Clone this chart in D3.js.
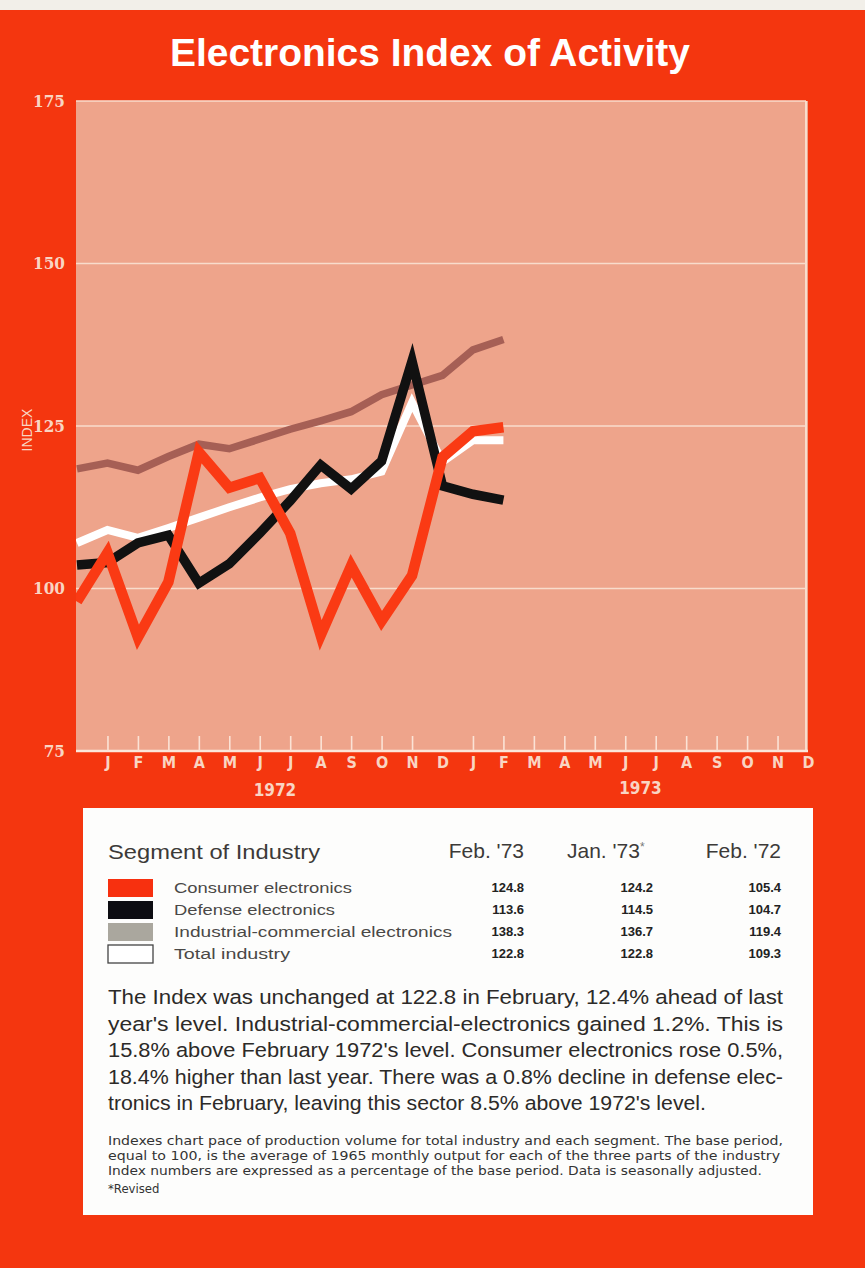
<!DOCTYPE html>
<meta charset="utf-8">
<style>
  body { margin: 0; background: #f2efe9; }
  svg { display: block; }
  .cond { font-family: "Liberation Sans Narrow", "DejaVu Sans Condensed", "Liberation Sans", sans-serif; }
  .sans { font-family: "Liberation Sans", Arial, sans-serif; }
</style>
<body>
<svg width="865" height="1268"></svg>
<script src="https://d3js.org/d3.v7.min.js"></script>
<script>
  // month axis, Jan 1972 .. Dec 1973
  var monthLabels = ["J","F","M","A","M","J","J","A","S","O","N","D",
                     "J","F","M","A","M","J","J","A","S","O","N","D"];
  var yearLabels = ["1972", "1973"];
  var yTicks = [75, 100, 125, 150, 175];

  // plotted points, one per month, Dec '71 .. Feb '73 (index -1 .. 13 on the axis)
  var dataMonths = ["Dec '71","Jan '72","Feb '72","Mar '72","Apr '72","May '72","Jun '72","Jul '72",
                    "Aug '72","Sep '72","Oct '72","Nov '72","Dec '72","Jan '73","Feb '73"];
  var consumer   = [98, 105.5, 92.5, 101, 121, 115.5, 117, 108.5, 92.8, 103.5, 95, 102, 120.2, 124.2, 124.8];
  var defense    = [103.6, 104, 107, 108.2, 100.8, 103.8, 108.5, 113.5, 119, 115.3, 119.6, 135, 115.8, 114.5, 113.6];
  var industrial = [118.4, 119.3, 118.2, 120.3, 122.2, 121.5, 123, 124.5, 125.8, 127.2, 129.8, 131.3, 132.8, 136.7, 138.3];
  var total      = [107, 109, 107.8, 109.3, 110.9, 112.5, 114, 115.3, 116.2, 116.8, 118, 128.6, 119.5, 122.8, 122.8];

  // table
  var segments  = ["Consumer electronics", "Defense electronics", "Industrial-commercial electronics", "Total industry"];
  var colHeads  = ["Feb. '73", "Jan. '73", "Feb. '72"];
  var feb73 = ["124.8", "113.6", "138.3", "122.8"];
  var jan73 = ["124.2", "114.5", "136.7", "122.8"];
  var feb72 = ["105.4", "104.7", "119.4", "109.3"];

  var paragraph = [
    "The Index was unchanged at 122.8 in February, 12.4% ahead of last",
    "year's level. Industrial-commercial-electronics gained 1.2%. This is",
    "15.8% above February 1972's level. Consumer electronics rose 0.5%,",
    "18.4% higher than last year. There was a 0.8% decline in defense elec-",
    "tronics in February, leaving this sector 8.5% above 1972's level."
  ];
  var footnote = [
    "Indexes chart pace of production volume for total industry and each segment. The base period,",
    "equal to 100, is the average of 1965 monthly output for each of the three parts of the industry",
    "Index numbers are expressed as a percentage of the base period. Data is seasonally adjusted.",
    "*Revised"
  ];

  var RED = "#f4360f", PINK = "#eea48b", CREAM = "#f9d5c3";

  var svg = d3.select("svg");

  svg.append("rect").attr("x", 0).attr("y", 10).attr("width", 865).attr("height", 1258).attr("fill", RED);

  svg.append("text").attr("class", "sans")
    .attr("x", 430).attr("y", 66).attr("text-anchor", "middle")
    .attr("font-size", 38).attr("font-weight", "bold").attr("fill", "#fff")
    .attr("textLength", 520).attr("lengthAdjust", "spacingAndGlyphs")
    .text("Electronics Index of Activity");

  var x0 = 76, x1 = 808, yTop = 101, yBot = 751;
  var x = d3.scaleLinear().domain([-1, 23]).range([x0 + 1, x1]);
  var y = d3.scaleLinear().domain([75, 175]).range([yBot, yTop]);

  svg.append("rect").attr("x", x0).attr("y", yTop).attr("width", x1 - x0).attr("height", yBot - yTop).attr("fill", PINK);

  // grid lines
  svg.append("g").selectAll("line").data(yTicks.slice(1)).enter().append("line")
    .attr("x1", x0).attr("x2", x1 - 2)
    .attr("y1", function(d) { return y(d); }).attr("y2", function(d) { return y(d); })
    .attr("stroke", "#f8dccc").attr("stroke-width", 1.6);
  svg.append("line").attr("x1", x1 - 2).attr("x2", x1 - 2).attr("y1", yTop).attr("y2", yBot)
    .attr("stroke", "#f8dccc").attr("stroke-width", 2);
  svg.append("line").attr("x1", x0).attr("x2", x1).attr("y1", yBot).attr("y2", yBot)
    .attr("stroke", "#fbe6da").attr("stroke-width", 2.5);

  // inner month ticks
  var tickAxis = svg.append("g").attr("transform", "translate(0," + yBot + ")")
    .call(d3.axisTop(x).tickValues(d3.range(23).filter(function(i) { return i !== 11; }))
      .tickSize(15).tickFormat(""));
  tickAxis.select(".domain").remove();
  tickAxis.selectAll("line").attr("stroke", "#fbe3d6").attr("stroke-width", 1.6);

  // month labels
  var xAxis = svg.append("g").attr("transform", "translate(0," + yBot + ")")
    .call(d3.axisBottom(x).tickValues(d3.range(24)).tickSize(0).tickPadding(6)
      .tickFormat(function(i) { return monthLabels[i]; }));
  xAxis.select(".domain").remove();
  xAxis.selectAll("text").attr("class", "cond").attr("font-size", 16).attr("font-weight", "bold")
    .attr("fill", CREAM);

  svg.append("g").selectAll("text").data(yearLabels).enter().append("text")
    .attr("class", "cond")
    .attr("x", function(d, i) { return x(5.5 + 12 * i); })
    .attr("y", function(d, i) { return 796 - 2 * i; })
    .attr("text-anchor", "middle").attr("font-size", 17).attr("font-weight", "bold")
    .attr("fill", CREAM).text(function(d) { return d; });

  // y axis
  var yAxis = svg.append("g").attr("transform", "translate(" + x0 + ",0)")
    .call(d3.axisLeft(y).tickValues(yTicks).tickSize(0).tickPadding(11));
  yAxis.select(".domain").remove();
  yAxis.selectAll("text").attr("font-family", "'DejaVu Serif Condensed', 'DejaVu Serif', serif")
    .attr("font-size", 17).attr("font-weight", "bold").attr("fill", CREAM);

  svg.append("text").attr("class", "sans")
    .attr("transform", "translate(32,430) rotate(-90)")
    .attr("text-anchor", "middle").attr("font-size", 14).attr("fill", CREAM)
    .text("INDEX");

  // series
  svg.append("clipPath").attr("id", "plot").append("rect")
    .attr("x", x0).attr("y", yTop).attr("width", x1 - x0).attr("height", yBot - yTop);

  var line = d3.line()
    .x(function(d, i) { return x(i - 1); })
    .y(function(d) { return y(d); });

  var series = [
    { values: total, color: "#ffffff", width: 8 },
    { values: industrial, color: "#a65f55", width: 7.5 },
    { values: defense, color: "#111111", width: 9.5 },
    { values: consumer, color: "#fa3a14", width: 10.5 }
  ];

  svg.append("g").attr("clip-path", "url(#plot)")
    .selectAll("path").data(series).enter().append("path")
    .attr("d", function(d) { return line(d.values); })
    .attr("fill", "none")
    .attr("stroke", function(d) { return d.color; })
    .attr("stroke-width", function(d) { return d.width; })
    .attr("stroke-linejoin", "miter")
    .attr("stroke-miterlimit", 10);

  // white panel
  svg.append("rect").attr("x", 83).attr("y", 808).attr("width", 730).attr("height", 407).attr("fill", "#fdfdfc");

  svg.append("text").attr("class", "sans")
    .attr("x", 108).attr("y", 859).attr("font-size", 21).attr("fill", "#3c3a38")
    .attr("textLength", 212).attr("lengthAdjust", "spacingAndGlyphs")
    .text("Segment of Industry");

  var colRight = [524, 653, 781];
  var head = svg.append("g").attr("class", "sans").attr("font-size", 21).attr("fill", "#3c3a38");
  head.append("text").attr("x", colRight[0]).attr("y", 858).attr("text-anchor", "end").text(colHeads[0]);
  var jh = head.append("text").attr("x", 567).attr("y", 858);
  jh.append("tspan").text(colHeads[1]);
  jh.append("tspan").attr("font-size", 12).attr("dy", -7).attr("fill", "#777").text("*");
  head.append("text").attr("x", colRight[2]).attr("y", 858).attr("text-anchor", "end").text(colHeads[2]);

  var swatchFill = ["#f7300f", "#0d0d12", "#aaa79e", "#ffffff"];
  var rowY = [888, 910, 932, 954];
  var labelW = [178, 161, 278, 116];

  svg.append("g").selectAll("rect").data(segments).enter().append("rect")
    .attr("x", 108).attr("y", function(d, i) { return rowY[i] - 9; })
    .attr("width", 45).attr("height", 18)
    .attr("fill", function(d, i) { return swatchFill[i]; })
    .attr("stroke", function(d, i) { return i === 3 ? "#444" : "none"; })
    .attr("stroke-width", 1.3);

  svg.append("g").selectAll("text").data(segments).enter().append("text")
    .attr("class", "sans")
    .attr("x", 174).attr("y", function(d, i) { return rowY[i] + 5; })
    .attr("font-size", 15.5).attr("fill", "#4a4846")
    .attr("textLength", function(d, i) { return labelW[i]; })
    .attr("lengthAdjust", "spacingAndGlyphs")
    .text(function(d) { return d; });

  [feb73, jan73, feb72].forEach(function(col, c) {
    svg.append("g").selectAll("text").data(col).enter().append("text")
      .attr("class", "sans")
      .attr("x", colRight[c]).attr("y", function(d, i) { return rowY[i] + 4; })
      .attr("text-anchor", "end").attr("font-size", 13).attr("font-weight", "bold").attr("fill", "#222")
      .text(function(d) { return d; });
  });

  // paragraph
  var paraW = [675, 675, 675, 675, 598];
  svg.append("g").selectAll("text").data(paragraph).enter().append("text")
    .attr("class", "sans")
    .attr("x", 108).attr("y", function(d, i) { return 1004 + i * 26.5; })
    .attr("font-size", 20.5).attr("fill", "#2c2a28")
    .attr("textLength", function(d, i) { return paraW[i]; })
    .attr("lengthAdjust", "spacingAndGlyphs")
    .text(function(d) { return d; });

  var footW = [675, 672, 654, null];
  svg.append("g").selectAll("text").data(footnote).enter().append("text")
    .attr("class", "cond")
    .attr("x", 108).attr("y", function(d, i) { return 1145 + i * 15 + (i === 3 ? 3 : 0); })
    .attr("font-size", 13).attr("fill", "#333")
    .attr("textLength", function(d, i) { return footW[i]; })
    .attr("lengthAdjust", "spacingAndGlyphs")
    .text(function(d) { return d; });
</script>
</body>
